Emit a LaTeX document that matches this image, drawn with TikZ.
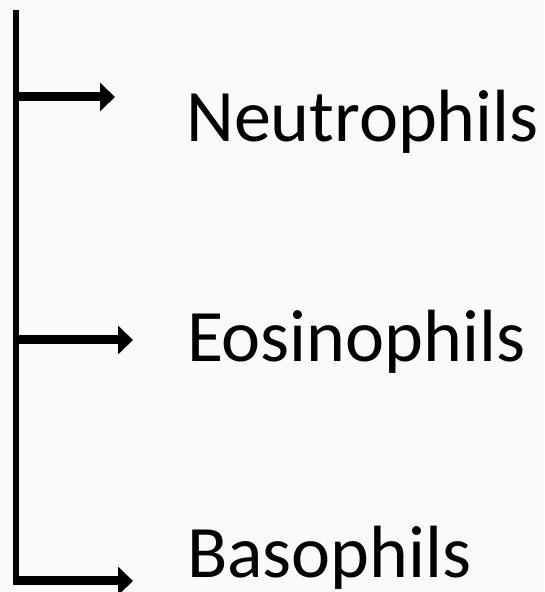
\documentclass[tikz,border=0pt]{standalone}
\usepackage{fontspec}
\setmainfont{Carlito}
\usetikzlibrary{arrows.meta}
\begin{document}
\begin{tikzpicture}[x=1pt,y=1pt]
 \tikzstyle{t} = [anchor=base west, inner sep=0pt, font=\fontsize{74}{80}\selectfont]
    \tikzstyle{e} = [line width=9pt, -{Triangle[length=15pt,width=28pt]}]
    %%
    \useasboundingbox[fill=gray!4] (0,0) rectangle (544,592);

        \coordinate (top) at (16,582);
        \coordinate (j1) at (16,495);
        \coordinate (j2) at (16,252);
        \coordinate (j3) at (16,11);
        \coordinate (a1) at (115,495);
        \coordinate (a2) at (133,252);
        \coordinate (a3) at (133,11);
        \node[t] (neu) at (186,450) {Neutrophils};
        \node[t] (eos) at (187,230) {Eosinophils};
        \node[t] (bas) at (187,14) {Basophils};
        \draw[line width=6.5pt] (top)--([yshift=-4.5pt]j3);
        \draw[e] (j1)--(a1); \draw[e] (j2)--(a2); \draw[e] ([xshift=-3.25pt]j3)--(a3);

    \end{tikzpicture}
\end{document}
